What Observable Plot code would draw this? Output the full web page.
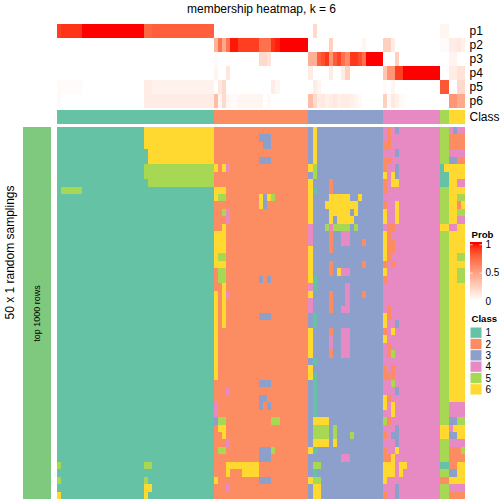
<!DOCTYPE html>
<html>
<head>
<meta charset="utf-8">
<script src="https://cdn.jsdelivr.net/npm/d3@7"></script>
<script src="https://cdn.jsdelivr.net/npm/@observablehq/plot@0.6"></script>
<style>
html,body{margin:0;padding:0;background:#fff;}
#page{position:relative;width:504px;height:504px;overflow:hidden;}
</style>
</head>
<body>
<div id="page"></div>
<script>
const classIds = [1,2,3,4,5,6];
const classColors = ["#66C2A5","#FC8D62","#8DA0CB","#E78AC3","#A6D854","#FFD92F"];
const classSizes = [38,23,18,14,2,4];
const probNames = ["p1","p2","p3","p4","p5","p6"];

// probability runs: [first column, last column, value]
const p1 = [[0,0,.9],[1,5,.93],[6,20,1],[21,22,.76],[23,37,.79],[62,62,.2],[93,94,.05]];
const p2 = [[38,38,.4],[39,39,.72],[40,40,.45],[41,41,.7],[42,43,.98],[44,48,.9],[49,51,.72],[52,52,.93],[53,53,.97],[54,60,1],[66,66,.25],[74,74,.05],[79,80,.25],[81,81,.1],[93,94,.02],[95,96,.1],[97,97,.12],[98,98,.08]];
const p3 = [[38,38,.02],[49,50,.2],[51,51,.15],[61,62,.42],[63,63,.78],[64,64,.85],[65,65,.92],[66,66,.55],[67,67,.8],[68,68,.88],[69,69,.72],[70,70,.6],[71,72,.92],[73,73,.86],[74,74,.72],[75,78,1],[82,82,.25],[95,96,.06]];
const p4 = [[38,38,.05],[41,41,.13],[61,61,.1],[66,66,.1],[69,69,.1],[70,70,.25],[79,79,.3],[80,81,.55],[82,83,.9],[84,92,1],[95,96,.1],[97,98,.15]];
const p5 = [[0,0,.03],[1,5,.02],[21,22,.1],[23,37,.07],[39,39,.12],[40,40,.2],[52,52,.1],[53,53,.05],[62,62,.1],[63,63,.05],[79,79,.02],[81,81,.05],[93,94,.82],[97,98,.2]];
const p6 = [[0,0,.03],[21,22,.1],[23,37,.1],[38,38,.35],[39,39,.05],[40,40,.2],[41,41,.05],[42,43,.03],[44,49,.05],[51,51,.03],[61,61,.35],[62,62,.2],[63,63,.1],[64,64,.12],[65,65,.08],[66,66,.1],[67,67,.12],[68,68,.08],[69,70,.1],[71,71,.08],[72,72,.06],[73,73,.03],[79,79,.25],[80,80,.03],[81,81,.12],[82,82,.08],[83,83,.03],[84,84,.01],[95,96,.55],[97,98,.45]];
const probRuns = [p1,p2,p3,p4,p5,p6];

// sampled classes that differ from the column's class: [first row, last row, first column, last column, class]
const overridesClass1 = [[0,2,21,37,6],[3,4,22,37,6],[5,6,21,37,5],[7,7,22,37,5],[8,8,1,5,5],[45,45,0,0,5],[45,45,21,22,5],[47,47,0,0,5],[47,47,21,21,5],[48,48,21,22,6],[49,49,0,0,6],[49,49,21,21,6]];
const overridesClass2 = [[1,1,49,51,3],[2,2,50,51,3],[4,4,49,51,3],[5,5,38,38,6],[5,5,40,40,6],[5,5,41,41,4],[8,8,38,40,6],[9,9,38,38,6],[9,9,39,40,5],[9,9,49,49,6],[9,9,50,50,3],[9,9,51,51,6],[9,9,52,52,5],[10,10,49,49,6],[10,10,50,50,3],[11,11,40,40,5],[11,12,41,41,4],[13,13,40,40,6],[14,16,38,40,6],[17,17,38,38,6],[17,17,39,40,5],[18,18,38,40,6],[19,20,39,40,5],[20,20,49,49,3],[20,20,51,51,3],[21,21,40,40,6],[22,22,41,41,4],[22,26,40,40,6],[22,33,38,38,6],[25,25,49,51,3],[34,34,49,51,3],[35,35,41,41,4],[36,36,49,50,3],[37,37,49,49,3],[37,37,51,51,3],[37,38,38,38,4],[39,39,38,38,3],[39,39,39,40,5],[39,39,52,53,5],[40,40,39,40,6],[41,41,40,40,6],[42,42,41,41,4],[43,43,39,40,5],[43,44,49,51,3],[43,43,52,52,5],[45,45,41,48,6],[46,46,41,41,6],[46,46,45,48,6],[47,47,38,38,6],[47,47,49,51,3],[48,48,41,41,4]];
const overridesClass3 = [[5,5,61,61,6],[7,12,61,61,6],[13,15,61,61,4],[16,20,61,61,6],[21,21,61,61,4],[22,22,61,61,6],[23,24,61,61,4],[27,30,61,61,6],[32,33,61,61,6],[43,43,61,61,6],[47,47,61,61,6],[0,4,62,62,6],[5,6,62,62,5],[8,8,62,62,1],[20,21,62,62,1],[25,26,62,62,1],[31,31,62,62,1],[33,38,62,62,1],[39,39,62,65,6],[40,41,62,65,5],[42,42,62,65,6],[43,43,62,62,1],[45,45,62,63,5],[46,46,62,62,1],[47,47,62,63,5],[48,49,62,63,6],[40,41,67,67,5],[42,42,67,67,6],[7,8,66,66,2],[9,9,66,70,6],[9,9,73,73,6],[10,10,65,72,6],[11,11,66,70,6],[11,11,72,72,6],[12,12,66,66,6],[12,12,68,71,6],[13,13,65,65,5],[13,13,66,66,4],[13,13,67,70,5],[13,13,72,72,5],[14,15,69,70,4],[14,16,66,66,2],[15,15,74,74,2],[18,19,66,66,2],[18,18,74,74,2],[19,19,68,68,6],[19,19,69,70,4],[21,24,70,70,4],[22,22,74,74,2],[22,24,66,66,2],[24,24,69,69,4],[27,27,66,66,2],[28,29,66,66,4],[30,30,66,66,2],[27,30,69,70,4],[41,41,71,71,5],[44,44,69,70,4]];
const overridesClass4 = [[0,1,80,80,2],[0,0,82,82,3],[2,2,79,80,2],[3,3,82,82,3],[4,4,79,80,2],[5,5,79,79,2],[5,6,82,82,3],[6,6,79,79,6],[6,6,81,81,6],[7,7,79,79,2],[7,7,81,82,6],[8,8,79,79,2],[10,10,79,79,2],[10,12,82,82,6],[11,12,79,79,6],[13,13,80,81,2],[14,17,79,79,6],[14,14,80,80,2],[15,16,80,81,2],[17,17,80,80,2],[18,18,79,79,2],[18,18,81,81,2],[19,19,79,79,6],[20,20,79,79,2],[24,24,80,80,2],[25,25,79,79,6],[25,25,80,80,2],[26,26,79,79,6],[26,26,82,82,3],[27,27,79,79,2],[27,27,81,81,6],[28,28,79,79,6],[29,30,80,80,2],[30,30,81,81,5],[32,32,79,79,2],[32,32,81,81,2],[33,33,79,81,2],[34,34,81,81,5],[35,35,82,82,3],[36,37,79,79,6],[36,36,80,80,2],[37,38,81,81,6],[39,39,79,79,5],[39,39,80,80,2],[40,42,82,82,3],[41,41,79,79,2],[41,41,81,81,3],[43,43,79,79,2],[43,43,82,82,6],[44,44,79,80,2],[44,44,81,81,6],[45,45,79,81,6],[45,45,83,84,6],[46,46,79,81,6],[46,46,83,83,6],[47,47,79,79,6],[48,49,82,82,3],[49,49,79,79,2]];
const overridesClass56 = [[0,0,95,95,4],[0,0,96,96,3],[0,0,97,98,4],[1,2,95,98,2],[3,3,95,98,4],[4,4,95,96,3],[4,4,97,98,2],[5,5,93,93,1],[5,5,94,94,6],[6,7,93,94,1],[7,7,97,98,4],[9,9,97,98,5],[10,10,97,97,2],[11,11,97,98,5],[12,12,97,98,4],[13,13,93,94,6],[13,13,95,96,4],[17,17,97,98,5],[19,20,97,98,5],[37,38,95,98,4],[39,39,95,96,3],[39,39,97,98,5],[40,40,93,94,6],[40,40,95,95,4],[41,41,93,94,6],[41,41,95,96,3],[42,42,95,98,4],[43,43,95,97,2],[43,43,98,98,5],[44,44,95,98,2],[45,45,93,94,1],[45,45,95,96,2],[46,46,95,96,3],[47,47,93,94,2],[48,48,95,98,4],[49,49,95,98,2]];
const overrides = [...overridesClass1,...overridesClass2,...overridesClass3,...overridesClass4,...overridesClass56];

const rowCount = 50;
const colClass = classSizes.flatMap((n,i)=>d3.range(n).map(()=>classIds[i]));
const cols = d3.range(colClass.length);
const rowIds = d3.range(rowCount);

const matrix = rowIds.map(()=>colClass.slice());
for (const [r1,r2,c1,c2,k] of overrides)
  for (let r=r1;r<=r2;r++) for (let c=c1;c<=c2;c++) matrix[r][c]=k;
const mainCells = rowIds.flatMap(r=>cols.map(c=>({r,c,k:matrix[r][c]})));

const probCells = probNames.flatMap((name,i)=>{
  const v = cols.map(()=>0);
  for (const [a,b,x] of probRuns[i]) for (let c=a;c<=b;c++) v[c]=x;
  return cols.map(c=>({name,c,v:v[c]}));
});

const kColor = k=>classColors[classIds.indexOf(k)];
const font = "'Liberation Sans', Arial, sans-serif";
const svgStyle = size=>({position:"absolute",left:"0px",top:"0px",background:"transparent",maxWidth:"none",height:"504px",overflow:"visible",fontFamily:font,fontSize:size,color:"#000",fontVariant:"normal"});
const probScale = {type:"linear",domain:[0,1],range:["white","red"],interpolate:"lab",clamp:true};
const xBand = {type:"band",domain:cols,padding:0,round:false,axis:null};
const page = document.getElementById("page");
const crisp = {shapeRendering:"crispEdges"};

// top probability heatmap and title
page.append(Plot.plot({
  width:504,height:108,marginTop:24,marginBottom:0,marginLeft:57,marginRight:39,
  style:{...svgStyle("12px"),height:"108px"},
  x:xBand,
  y:{type:"band",domain:probNames,padding:0,round:false,label:null},
  color:probScale,
  marks:[
    Plot.cell(probCells,{x:"c",y:"name",fill:"v",...crisp}),
    Plot.axisY({anchor:"right",tickSize:0,tickPadding:4,label:null}),
    Plot.text(["membership heatmap, k = 6"],{frameAnchor:"top",dy:-15,fontSize:12,lineAnchor:"middle",fill:"#000"})
  ]
}));

// class annotation
page.append(Plot.plot({
  width:504,height:124,marginTop:110,marginBottom:0,marginLeft:57,marginRight:39,
  style:{...svgStyle("12px"),height:"124px"},
  x:xBand,
  y:{type:"band",domain:["Class"],padding:0,round:false,label:null},
  marks:[
    Plot.cell(cols,{x:d=>d,y:()=>"Class",fill:{value:d=>kColor(colClass[d]),scale:null},...crisp}),
    Plot.axisY({anchor:"right",tickSize:0,tickPadding:4,label:null})
  ]
}));

// membership matrix
page.append(Plot.plot({
  width:504,height:504,marginTop:127,marginBottom:5,marginLeft:57,marginRight:39,
  style:svgStyle("12px"),
  x:xBand,
  y:{type:"band",domain:rowIds,padding:0,round:false,axis:null},
  marks:[
    Plot.cell(mainCells,{x:"c",y:"r",fill:{value:d=>kColor(d.k),scale:null},...crisp})
  ]
}));

// left strip with row titles
page.append(Plot.plot({
  width:504,height:504,marginTop:127,marginBottom:5,marginLeft:23,marginRight:453,
  style:svgStyle("12px"),
  x:{type:"band",domain:["top 1000 rows"],padding:0,round:false,axis:null},
  y:{type:"band",domain:["top 1000 rows"],padding:0,round:false,axis:null},
  marks:[
    Plot.cell(["top 1000 rows"],{x:d=>d,y:d=>d,fill:{value:()=>"#7FC97F",scale:null},...crisp}),
    Plot.text(["top 1000 rows"],{frameAnchor:"middle",rotate:-90,fontSize:9,fill:"#000",lineAnchor:"middle"}),
    Plot.text(["50 x 1 random samplings"],{frameAnchor:"left",dx:-13,dy:-61,rotate:-90,fontSize:12,fill:"#000",textAnchor:"middle",lineAnchor:"middle"})
  ]
}));

// Prob legend
const ramp = d3.range(0,1.04,0.01);
page.append(Plot.plot({
  width:504,height:504,marginTop:242,marginBottom:203,marginLeft:470,marginRight:22,
  style:svgStyle("10px"),
  x:{domain:[0,1],axis:null},
  y:{domain:[0,1.04],axis:null},
  color:probScale,
  marks:[
    Plot.barY(ramp,{y1:d=>d,y2:d=>d+0.012,fill:d=>d,...crisp}),
    Plot.ruleY([0.5,1],{x1:()=>0,x2:()=>0.22,stroke:"white",strokeOpacity:0.7}),
    Plot.ruleY([0.5,1],{x1:()=>0.78,x2:()=>1,stroke:"white",strokeOpacity:0.7}),
    Plot.axisY([0,0.5,1],{anchor:"right",tickSize:0,tickPadding:3,label:null,fontSize:10,tickFormat:d=>String(d)}),
    Plot.text(["Prob"],{frameAnchor:"top-left",dx:1,dy:-8,lineAnchor:"middle",fontWeight:"bold",fontSize:9.6,fill:"#000"})
  ]
}));

// Class legend
page.append(Plot.plot({
  width:504,height:504,marginTop:327,marginBottom:109,marginLeft:470,marginRight:22,
  style:svgStyle("10px"),
  x:{type:"band",domain:["swatch"],padding:0,round:false,axis:null},
  y:{type:"band",domain:classIds,padding:0,round:false,label:null},
  marks:[
    Plot.cell(classIds,{x:()=>"swatch",y:d=>d,fill:{value:d=>kColor(d),scale:null},inset:0.5}),
    Plot.axisY({anchor:"right",tickSize:0,tickPadding:3,label:null,fontSize:10}),
    Plot.text(["Class"],{frameAnchor:"top-left",dx:1,dy:-9,lineAnchor:"middle",fontWeight:"bold",fontSize:9.6,fill:"#000"})
  ]
}));
</script>
</body>
</html>
